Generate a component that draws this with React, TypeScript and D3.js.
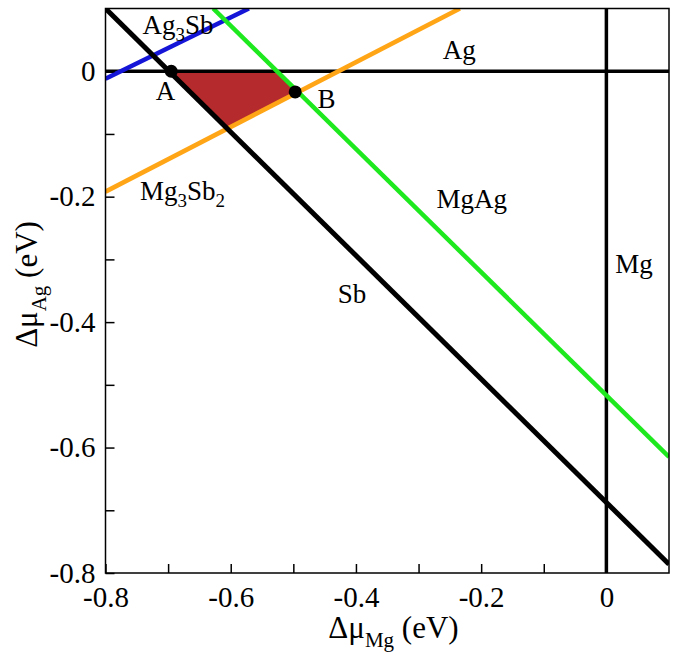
import { useEffect, useRef } from 'react'
import * as d3 from 'd3'

type Pt = [number, number]

// axis ticks
const xTickValues = [-0.8, -0.7, -0.6, -0.5, -0.4, -0.3, -0.2, -0.1, 0]
const xTickLabels = ['-0.8', '', '-0.6', '', '-0.4', '', '-0.2', '', '0']
const yTickValues = [-0.8, -0.7, -0.6, -0.5, -0.4, -0.3, -0.2, -0.1, 0]
const yTickLabels = ['-0.8', '', '-0.6', '', '-0.4', '', '-0.2', '', '0']

// boundary lines (Δμ_Mg, Δμ_Ag)
const agLine: Pt[] = [[-0.8, 0], [0.1, 0]]
const mgLine: Pt[] = [[0, -0.8], [0, 0.1]]
const sbLine: Pt[] = [[-0.8, 0.1], [0.1, -0.786]]
const mgAgLine: Pt[] = [[-0.628, 0.1], [0.1, -0.615]]
const mg3Sb2Line: Pt[] = [[-0.8, -0.192], [-0.234, 0.1]]
const ag3SbLine: Pt[] = [[-0.8, -0.012], [-0.571, 0.1]]

// stable region and marked points
const stableRegion: Pt[] = [[-0.696, 0], [-0.524, 0], [-0.497, -0.033], [-0.605, -0.092]]
const pointNames = ['A', 'B']
const pointCoords: Pt[] = [[-0.695, 0], [-0.497, -0.033]]

export default function App() {
  const ref = useRef<SVGSVGElement | null>(null)

  useEffect(() => {
    if (!ref.current) {return}
    const width = 675
    const height = 659
    const svg = d3.select(ref.current)
    svg.selectAll('*').remove()

    const margin = { top: 8.5, right: 6, bottom: 86, left: 105.5 }
    const x = d3.scaleLinear().domain([-0.8, 0.1]).range([margin.left, width - margin.right])
    const y = d3.scaleLinear().domain([-0.8, 0.1]).range([height - margin.bottom, margin.top])
    const font = '"Liberation Serif", "Times New Roman", serif'

    svg.attr('width', width).attr('height', height)
    svg.append('rect').attr('width', width).attr('height', height).attr('fill', '#fff')

    svg.append('defs').append('clipPath').attr('id', 'plot-clip')
      .append('rect')
      .attr('x', x(-0.8)).attr('y', y(0.1))
      .attr('width', x(0.1) - x(-0.8)).attr('height', y(-0.8) - y(0.1))

    const plot = svg.append('g').attr('clip-path', 'url(#plot-clip)')

    const line = d3.line<Pt>().x((d) => x(d[0])).y((d) => y(d[1]))

    plot.append('path')
      .datum(stableRegion)
      .attr('d', line.curve(d3.curveLinearClosed))
      .attr('fill', '#b52a2c')

    line.curve(d3.curveLinear)

    const boundaries = [
      { pts: agLine, color: '#000', w: 3.5 },
      { pts: mgLine, color: '#000', w: 3.5 },
      { pts: ag3SbLine, color: '#1515d8', w: 4.5 },
      { pts: mg3Sb2Line, color: '#ffa516', w: 4.5 },
      { pts: mgAgLine, color: '#1ee81e', w: 4.5 },
      { pts: sbLine, color: '#000', w: 5 },
    ]

    plot.selectAll('path.bound')
      .data(boundaries)
      .join('path')
      .attr('class', 'bound')
      .attr('d', (d) => line(d.pts))
      .attr('fill', 'none')
      .attr('stroke', (d) => d.color)
      .attr('stroke-width', (d) => d.w)

    plot.selectAll('circle')
      .data(pointCoords)
      .join('circle')
      .attr('cx', (d) => x(d[0]))
      .attr('cy', (d) => y(d[1]))
      .attr('r', 6.5)
      .attr('fill', '#000')

    // frame
    svg.append('rect')
      .attr('x', x(-0.8)).attr('y', y(0.1))
      .attr('width', x(0.1) - x(-0.8)).attr('height', y(-0.8) - y(0.1))
      .attr('fill', 'none').attr('stroke', '#000').attr('stroke-width', 1.5)

    // axes with inward ticks
    const xAxis = svg.append('g')
      .attr('transform', `translate(0,${y(-0.8)})`)
      .call(d3.axisBottom(x).tickValues(xTickValues).tickSize(-9).tickSizeOuter(0).tickPadding(13)
        .tickFormat((_, i) => xTickLabels[i]))
    xAxis.select('.domain').remove()
    xAxis.selectAll('line').attr('stroke-width', 1.5)
    xAxis.selectAll('text').attr('fill', '#000').style('font-size', '29px').style('font-family', font)
      .attr('dy', '0.71em')

    const yAxis = svg.append('g')
      .attr('transform', `translate(${x(-0.8)},0)`)
      .call(d3.axisLeft(y).tickValues(yTickValues).tickSize(-9).tickSizeOuter(0).tickPadding(10)
        .tickFormat((_, i) => yTickLabels[i]))
    yAxis.select('.domain').remove()
    yAxis.selectAll('line').attr('stroke-width', 1.5)
    yAxis.selectAll('text').attr('fill', '#000').style('font-size', '29px').style('font-family', font)

    // axis titles
    const xTitle = svg.append('text')
      .attr('x', x(-0.34)).attr('y', 638)
      .attr('text-anchor', 'middle')
      .style('font-family', font).style('font-size', '31px')
    xTitle.append('tspan').text('Δμ')
    xTitle.append('tspan').attr('dy', 9).style('font-size', '21px').text('Mg')
    xTitle.append('tspan').attr('dy', -9).text(' (eV)')

    const yTitle = svg.append('text')
      .attr('transform', `translate(37,${y(-0.34)}) rotate(-90)`)
      .attr('text-anchor', 'middle')
      .style('font-family', font).style('font-size', '31px')
    yTitle.append('tspan').text('Δμ')
    yTitle.append('tspan').attr('dy', 9).style('font-size', '21px').text('Ag')
    yTitle.append('tspan').attr('dy', -9).text(' (eV)')

    // phase labels
    const labels = svg.append('g').style('font-family', font).style('font-size', '27px')
    const addLabel = (px: number, py: number, parts: [string, boolean][], anchor = 'start') => {
      const t = labels.append('text').attr('x', x(px)).attr('y', y(py)).attr('text-anchor', anchor)
      let sub = false
      parts.forEach(([s, isSub]) => {
        const ts = t.append('tspan').text(s)
        if (isSub && !sub) {ts.attr('dy', 7).style('font-size', '19px')}
        if (!isSub && sub) {ts.attr('dy', -7)}
        sub = isSub
      })
    }
    addLabel(-0.741, 0.06, [['Ag', false], ['3', true], ['Sb', false]])
    addLabel(-0.235, 0.02, [['Ag', false]], 'middle')
    addLabel(-0.745, -0.205, [['Mg', false], ['3', true], ['Sb', false], ['2', true]])
    addLabel(-0.215, -0.218, [['MgAg', false]], 'middle')
    addLabel(-0.429, -0.369, [['Sb', false]])
    addLabel(0.014, -0.322, [['Mg', false]])

    pointNames.forEach((n, i) => {
      const [px, py] = pointCoords[i]
      const dx = i === 0 ? -0.009 : 0.05
      const dy = i === 0 ? 0.046 : 0.026
      addLabel(px + dx, py - dy, [[n, false]], 'middle')
    })
  }, [])

  return (
    <div style={{ position: 'absolute', left: 0, top: 0 }}>
      <svg ref={ref} role="img" aria-label="Chemical potential stability diagram" style={{ display: 'block' }} />
    </div>
  )
}
